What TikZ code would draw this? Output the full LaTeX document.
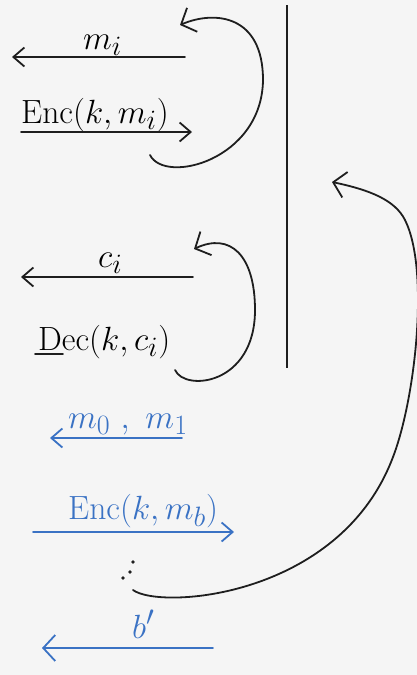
\documentclass[tikz,border=0pt]{standalone}
\usetikzlibrary{arrows.meta}
\definecolor{bg}{HTML}{F5F5F5}
\definecolor{pen}{HTML}{1E1E1E}
\definecolor{bluepen}{HTML}{3A72C4}
\newcommand{\bigtxt}[1]{\scalebox{1.35}{#1}}
\begin{document}
\begin{tikzpicture}[x=1pt,y=-1pt,
  ink/.style={line width=1.8pt, line cap=round, line join=round, draw=pen},
  blueink/.style={line width=1.8pt, line cap=round, line join=round, draw=bluepen},
  tipped/.style={-{Straight Barb[length=11pt,width=19pt]}},
  bigtip/.style={-{Straight Barb[length=12pt,width=26pt]}},
  lbl/.style={inner sep=0pt, anchor=base west, font=\Huge},
]
\fill[bg] (0,0) rectangle (417,675);
\useasboundingbox (0,0) rectangle (417,675);

% --- black top block ---
\coordinate (a1s) at (185,57);
\coordinate (a1t) at (12,57);
\draw[ink,tipped] (a1s) -- (a1t);
\node[lbl] (mi) at (83,49) {\bigtxt{$m_i$}};

\node[lbl] (enc) at (21,123) {\bigtxt{$\mathrm{Enc}(k,m_i)$}};
\coordinate (a2s) at (21,132);
\coordinate (a2t) at (192,132);
\draw[ink,tipped] (a2s) -- (a2t);

\coordinate (l1s) at (150,155);
\coordinate (l1m) at (263,80);
\coordinate (l1t) at (180,25);
\draw[ink,bigtip] (l1s) .. controls (165,185) and (262,160) .. (l1m)
  .. controls (263,15) and (215,10) .. (l1t);

% vertical line
\coordinate (vtop) at (287,5);
\coordinate (vbot) at (287,368);
\draw[line width=2.2pt,draw=pen] (vtop) -- (vbot);

% --- c_i block ---
\coordinate (a3s) at (193,277);
\coordinate (a3t) at (21,277);
\draw[ink,tipped] (a3s) -- (a3t);
\node[lbl] (ci) at (98,267) {\bigtxt{$c_i$}};

\node[lbl] (dec) at (38,350) {\bigtxt{$\mathrm{Dec}(k,c_i)$}};
\coordinate (u1) at (35,354);
\coordinate (u2) at (63,354);
\draw[ink] (u1) -- (u2);

\coordinate (l2s) at (175,370);
\coordinate (l2m) at (255,310);
\coordinate (l2t) at (194,249);
\draw[ink,bigtip] (l2s) .. controls (185,392) and (255,385) .. (l2m)
  .. controls (255,255) and (230,232) .. (l2t);

% --- blue block ---
\node[lbl,text=bluepen] (m01) at (68,428) {\bigtxt{$m_0\ ,\ m_1$}};
\coordinate (b1s) at (182,438);
\coordinate (b1t) at (50,438);
\draw[blueink,tipped] (b1s) -- (b1t);

\node[lbl,text=bluepen] (encb) at (68,519) {\bigtxt{$\mathrm{Enc}(k,m_b)$}};
\coordinate (b2s) at (33,532);
\coordinate (b2t) at (234,532);
\draw[blueink,tipped] (b2s) -- (b2t);

% dots
\fill[pen] (133,562) circle (1.8pt);
\fill[pen] (130,572) circle (1.8pt);
\fill[pen] (123,578) circle (1.8pt);

% big curve
\coordinate (l3s) at (133,590);
\coordinate (l3a) at (393,457);
\coordinate (l3b) at (405,220);
\coordinate (l3t) at (332,182);
\draw[ink,bigtip] (l3s) .. controls (160,610) and (340,598) .. (l3a)
  .. controls (415,400) and (430,270) .. (l3b)
  .. controls (395,200) and (370,190) .. (l3t);

\node[lbl,text=bluepen] (bp) at (132,638) {\bigtxt{$b'$}};
\coordinate (b3s) at (213,648);
\coordinate (b3t) at (42,648);
\draw[blueink,bigtip] (b3s) -- (b3t);
\end{tikzpicture}
\end{document}
